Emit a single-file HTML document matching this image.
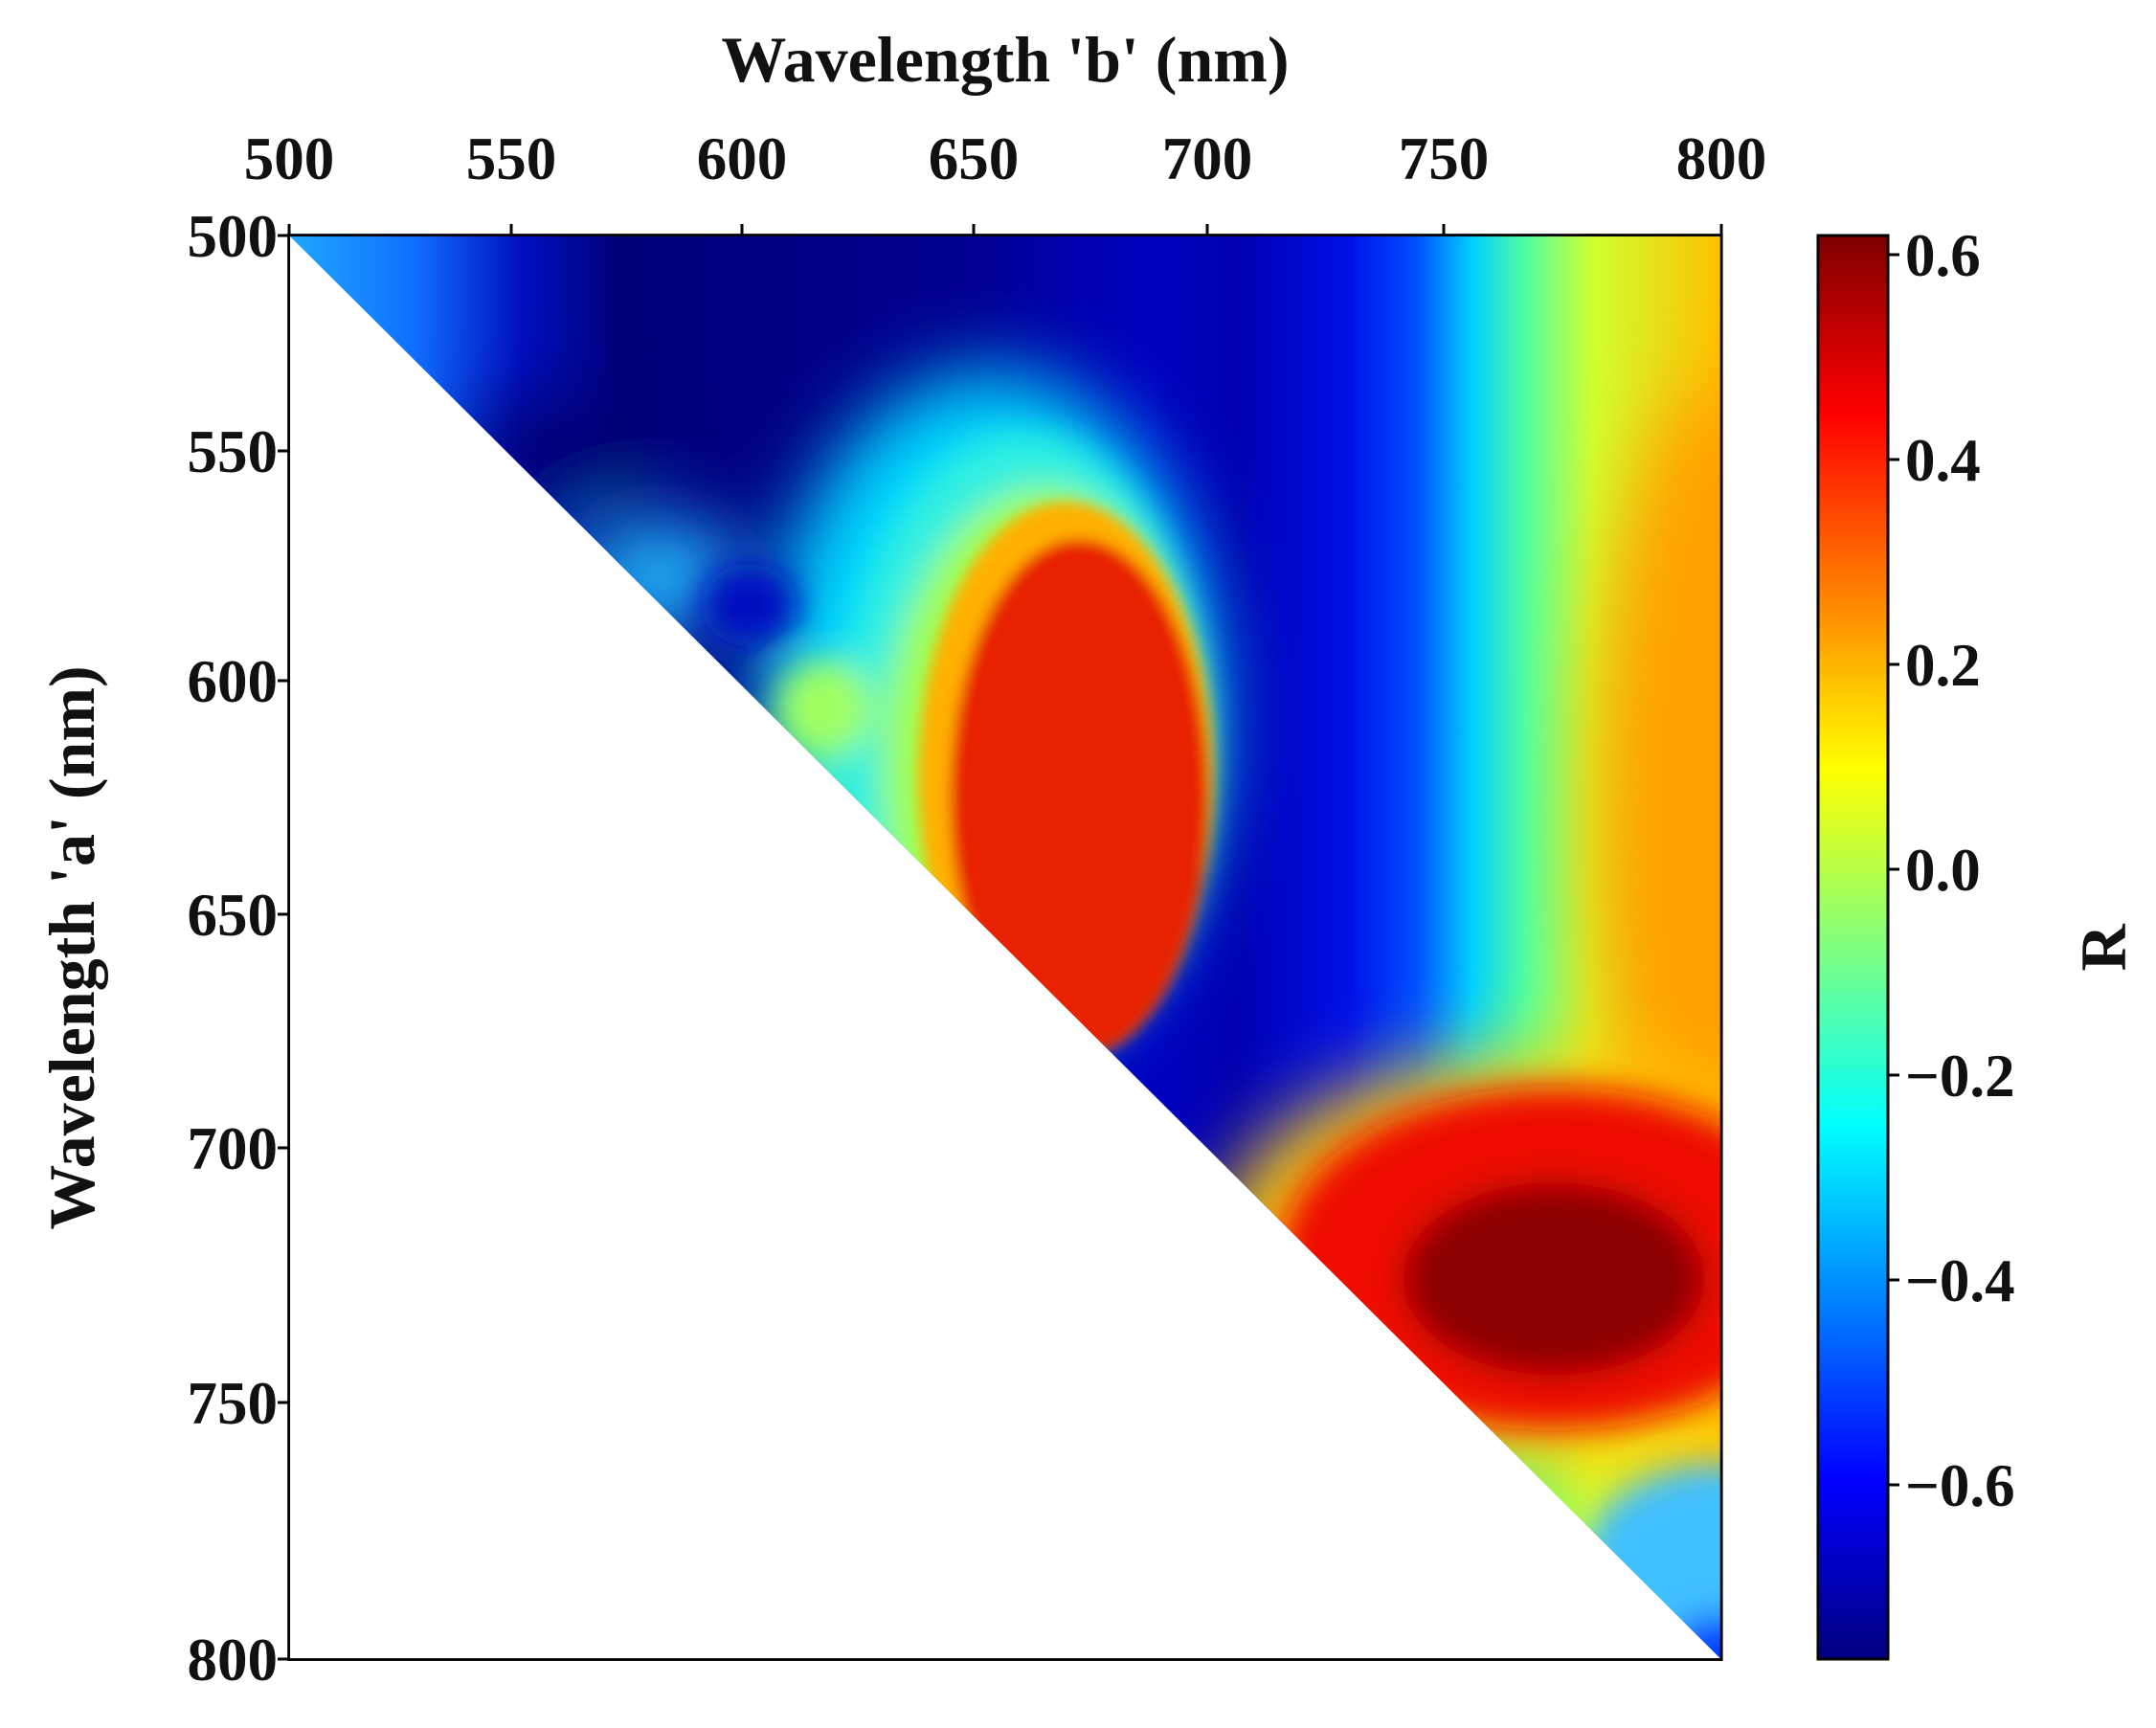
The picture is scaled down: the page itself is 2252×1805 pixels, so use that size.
<!DOCTYPE html>
<html><head><meta charset="utf-8"><style>
html,body{margin:0;padding:0;background:#fff;}
svg{display:block;}
text{font-family:"Liberation Serif",serif;font-weight:bold;fill:#111;}
</style></head><body>
<svg width="2252" height="1805" viewBox="0 0 2252 1805" xmlns="http://www.w3.org/2000/svg">
<defs>
<clipPath id="tri"><polygon points="210,171 1252,171 1252,1207"/></clipPath>
<filter id="b1" x="-50%" y="-50%" width="200%" height="200%"><feGaussianBlur stdDeviation="28"/></filter>
<filter id="b2" x="-50%" y="-50%" width="200%" height="200%"><feGaussianBlur stdDeviation="12"/></filter>
<filter id="b3" x="-50%" y="-50%" width="200%" height="200%"><feGaussianBlur stdDeviation="5"/></filter>
<linearGradient id="base" x1="210" y1="0" x2="1252" y2="0" gradientUnits="userSpaceOnUse">
<stop offset="0" stop-color="#20a8ff"/>
<stop offset="0.086" stop-color="#1070ff"/>
<stop offset="0.163" stop-color="#0010c0"/>
<stop offset="0.23" stop-color="#00007a"/>
<stop offset="0.47" stop-color="#000090"/>
<stop offset="0.60" stop-color="#0000c0"/>
<stop offset="0.66" stop-color="#0000b0"/>
<stop offset="0.74" stop-color="#0010e8"/>
<stop offset="0.787" stop-color="#0050ff"/>
<stop offset="0.826" stop-color="#00d0ff"/>
<stop offset="0.863" stop-color="#50ffa0"/>
<stop offset="0.91" stop-color="#d0ff30"/>
<stop offset="1" stop-color="#ffc000"/>
</linearGradient>
<linearGradient id="jet" x1="0" y1="1733" x2="0" y2="246" gradientUnits="userSpaceOnUse">
<stop offset="0" stop-color="#00007f"/>
<stop offset="0.125" stop-color="#0000ff"/>
<stop offset="0.375" stop-color="#00ffff"/>
<stop offset="0.5" stop-color="#7fff7f"/>
<stop offset="0.625" stop-color="#ffff00"/>
<stop offset="0.875" stop-color="#ff0000"/>
<stop offset="1" stop-color="#7f0000"/>
</linearGradient>
</defs>
<g transform="scale(1.43622)">
<g clip-path="url(#tri)">
<rect x="210" y="171" width="1042" height="1036" fill="url(#base)"/>
<g filter="url(#b1)">
<ellipse cx="1252" cy="600" rx="90" ry="320" fill="#ffa000"/>
<ellipse cx="1110" cy="920" rx="230" ry="150" fill="#ffd000"/>
<ellipse cx="400" cy="330" rx="60" ry="40" fill="#000070"/>
<ellipse cx="480" cy="420" rx="60" ry="40" fill="#20c0ff"/>
<ellipse cx="720" cy="520" rx="165" ry="250" fill="#00d8ff"/>
<ellipse cx="610" cy="560" rx="50" ry="60" fill="#40f0c0"/>
</g>
<g filter="url(#b2)">
<ellipse cx="1130" cy="915" rx="200" ry="125" fill="#ee1000"/>
<ellipse cx="1130" cy="930" rx="110" ry="70" fill="#8a0000"/>
<ellipse cx="1252" cy="1135" rx="100" ry="70" fill="#40c0ff"/>
<ellipse cx="1252" cy="1205" rx="40" ry="30" fill="#0040ff"/>
<ellipse cx="745" cy="545" rx="135" ry="230" fill="#30f0e0"/>
<ellipse cx="760" cy="560" rx="118" ry="205" fill="#a0ff50"/>
<ellipse cx="545" cy="440" rx="35" ry="30" fill="#0010c0"/>
<ellipse cx="600" cy="515" rx="35" ry="35" fill="#a0ff60"/>
</g>
<g filter="url(#b3)">
<ellipse cx="775" cy="565" rx="107" ry="200" fill="#ffb000"/>
<ellipse cx="785" cy="580" rx="94" ry="188" fill="#e82000"/>
</g>
</g>
<rect x="210" y="171" width="1042" height="1036" fill="none" stroke="#000" stroke-width="2"/>
</g>
<g stroke="#000" stroke-width="3">
<line x1="302" y1="246" x2="302" y2="234"/><line x1="534" y1="246" x2="534" y2="234"/><line x1="775" y1="246" x2="775" y2="234"/><line x1="1017" y1="246" x2="1017" y2="234"/><line x1="1261" y1="246" x2="1261" y2="234"/><line x1="1508" y1="246" x2="1508" y2="234"/><line x1="1798" y1="246" x2="1798" y2="234"/>
<line x1="302" y1="246" x2="290" y2="246"/><line x1="302" y1="471" x2="290" y2="471"/><line x1="302" y1="711" x2="290" y2="711"/><line x1="302" y1="955" x2="290" y2="955"/><line x1="302" y1="1199" x2="290" y2="1199"/><line x1="302" y1="1465" x2="290" y2="1465"/><line x1="302" y1="1733" x2="290" y2="1733"/>
</g>
<g font-size="63" text-anchor="middle">
<text x="302" y="187">500</text><text x="534" y="187">550</text><text x="775" y="187">600</text><text x="1017" y="187">650</text><text x="1261" y="187">700</text><text x="1508" y="187">750</text><text x="1798" y="187">800</text>
</g>
<g font-size="63" text-anchor="end">
<text x="290" y="268">500</text><text x="290" y="493">550</text><text x="290" y="733">600</text><text x="290" y="977">650</text><text x="290" y="1221">700</text><text x="290" y="1487">750</text><text x="290" y="1755">800</text>
</g>
<text x="1050" y="85" font-size="68" text-anchor="middle">Wavelength 'b' (nm)</text>
<text transform="translate(98,990) rotate(-90)" font-size="68" text-anchor="middle">Wavelength 'a' (nm)</text>
<rect x="1899" y="246" width="73" height="1487" fill="url(#jet)" stroke="#000" stroke-width="3"/>
<g stroke="#000" stroke-width="3">
<line x1="1972" y1="266" x2="1984" y2="266"/><line x1="1972" y1="480" x2="1984" y2="480"/><line x1="1972" y1="694" x2="1984" y2="694"/><line x1="1972" y1="908" x2="1984" y2="908"/><line x1="1972" y1="1123" x2="1984" y2="1123"/><line x1="1972" y1="1337" x2="1984" y2="1337"/><line x1="1972" y1="1551" x2="1984" y2="1551"/>
</g>
<g font-size="63">
<text x="1990" y="288">0.6</text><text x="1990" y="502">0.4</text><text x="1990" y="716">0.2</text><text x="1990" y="930">0.0</text><text x="1990" y="1145">−0.2</text><text x="1990" y="1359">−0.4</text><text x="1990" y="1573">−0.6</text>
</g>
<text transform="translate(2220,990) rotate(-90)" font-size="68" text-anchor="middle">R</text>
</svg>
</body></html>
